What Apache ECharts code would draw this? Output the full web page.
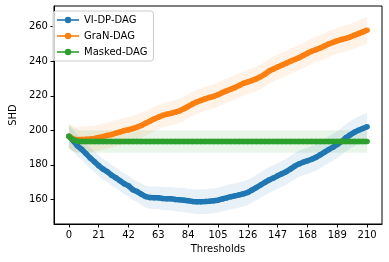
<!DOCTYPE html>
<html>
<head>
<meta charset="utf-8">
<script src="https://cdn.jsdelivr.net/npm/echarts@6/dist/echarts.min.js"></script>
<style>
html,body{margin:0;padding:0;background:#fff;}
#c{width:389px;height:262px;}
</style>
</head>
<body>
<div id="c"></div>
<script>
const thresholds = [0,3,6,9,12,15,18,21,24,27,30,33,36,39,42,45,48,51,54,57,60,63,66,69,72,75,78,81,84,87,90,93,96,99,102,105,108,111,114,117,120,123,126,129,132,135,138,141,144,147,150,153,156,159,162,165,168,171,174,177,180,183,186,189,192,195,198,201,204,207,210];
const xTickLabels = [0,21,42,63,84,105,126,147,168,189,210];
const yTickLabels = [160,180,200,220,240,260];

const viDpDag = [196.5,194,191,189,186.5,184,181.8,179.5,177.5,176,174,172.5,170.8,169,167.8,165.6,164.5,163,161.6,161,160.9,160.9,160.5,160.3,160.4,159.9,159.8,159.5,159.2,158.8,158.6,158.6,158.7,158.9,159.2,159.5,160.2,160.8,161.5,162,162.6,163.2,164,165.4,166.8,168.3,169.8,171.2,172.3,173.6,174.8,176,177.5,179.2,180.5,181.5,182.3,183.2,184.3,185.8,187.3,188.8,190.2,191.8,193.5,195.6,197.3,198.8,200,201,202];
const viDpDagStd = [6.5,6.3,6.2,6,6,6,6,6,6,6,6,6,6,6,6,6,6,6.2,6.3,6.4,6.5,6.5,6.6,6.7,6.8,6.8,6.9,7,7,7,7.1,7.2,7.2,7.2,7.2,7.2,7.2,7.2,7.2,7.3,7.3,7.3,7.3,7.3,7.4,7.4,7.4,7.5,7.5,7.5,7.5,7.5,7.5,7.6,7.6,7.6,7.6,7.7,7.7,7.7,7.7,7.8,7.8,7.8,7.8,7.9,7.9,7.9,8,8,8];

const granDag = [196.5,195,194.5,194.7,194.8,195,195.3,195.8,196.3,197,197.5,198.3,199,199.8,200.3,201,201.8,202.8,204,205.3,206.5,207.6,208.6,209.3,209.8,210.5,211.3,212.5,213.8,215.2,216.4,217.3,218.2,219,219.7,220.6,221.8,222.8,223.8,224.8,226,227.2,228,228.8,229.8,231,232.5,234.3,235.5,236.6,237.7,238.8,240,241,242,243.3,244.6,245.8,246.7,247.7,248.8,250,250.9,251.8,252.6,253.2,254,255,256,257,258];
const granDagStd = [7,7.2,7.4,7.5,7.5,7.5,7.5,7.5,7.5,7.5,7.5,7.5,7.5,7.5,7.4,7.4,7.3,7.3,7.2,7.2,7.1,7.1,7,7,7,7,7,7,7,7,7,7,7,7,7,7,7,7,7,7,7,7,7,7,7,7.1,7.1,7.2,7.2,7.2,7.3,7.3,7.3,7.3,7.4,7.4,7.4,7.4,7.5,7.5,7.5,7.5,7.5,7.5,7.6,7.6,7.6,7.7,7.7,7.8,7.8];

const maskedDag = [196.5,194.5,193.6,193.5,193.5,193.5,193.5,193.5,193.5,193.5,193.5,193.5,193.5,193.5,193.5,193.5,193.5,193.5,193.5,193.5,193.5,193.5,193.5,193.5,193.5,193.5,193.5,193.5,193.5,193.5,193.5,193.5,193.5,193.5,193.5,193.5,193.5,193.5,193.5,193.5,193.5,193.5,193.5,193.5,193.5,193.5,193.5,193.5,193.5,193.5,193.5,193.5,193.5,193.5,193.5,193.5,193.5,193.5,193.5,193.5,193.5,193.5,193.5,193.5,193.5,193.5,193.5,193.5,193.5,193.5,193.5];
const maskedDagStd = [7,6.8,6.6,6.5,6.5,6.5,6.5,6.5,6.5,6.5,6.5,6.5,6.5,6.5,6.5,6.5,6.5,6.5,6.5,6.5,6.5,6.5,6.5,6.5,6.5,6.5,6.5,6.5,6.5,6.5,6.5,6.5,6.5,6.5,6.5,6.5,6.5,6.5,6.5,6.5,6.5,6.5,6.5,6.5,6.5,6.5,6.5,6.5,6.5,6.5,6.5,6.5,6.5,6.5,6.5,6.5,6.5,6.5,6.5,6.5,6.5,6.5,6.5,6.5,6.5,6.5,6.5,6.5,6.5,6.5,6.5];

const seriesDefs = [
  {name:'VI-DP-DAG', mean:viDpDag, std:viDpDagStd, color:'#1f77b4', band:'rgba(31,119,180,0.1)'},
  {name:'GraN-DAG', mean:granDag, std:granDagStd, color:'#ff7f0e', band:'rgba(255,127,14,0.1)'},
  {name:'Masked-DAG', mean:maskedDag, std:maskedDagStd, color:'#2ca02c', band:'rgba(44,160,44,0.1)'}
];

const series = [];
seriesDefs.forEach((d, i) => {
  const bandData = thresholds.map((t,k)=>[t, d.mean[k]-d.std[k], d.mean[k]+d.std[k]]);
  series.push({
    name: d.name + ' band', type:'custom', silent:true, z:1, clip:true,
    encode:{x:0, y:[1,2]},
    data: bandData,
    renderItem: function(params, api){
      if (params.dataIndex !== 0) return null;
      const upper = [], lower = [];
      bandData.forEach(p => {
        upper.push(api.coord([p[0], p[2]]));
        lower.push(api.coord([p[0], p[1]]));
      });
      const pts = upper.concat(lower.reverse());
      return {type:'polygon', shape:{points:pts}, style:{fill:d.band, stroke:null}};
    }
  });
});
seriesDefs.forEach((d, i) => {
  series.push({
    name: d.name, type:'line', symbol:'circle', symbolSize:5.5, showSymbol:true,
    color: d.color, lineStyle:{width:5.5, color:d.color}, itemStyle:{color:d.color},
    z: 3 + i, animation:false,
    data: thresholds.map((t,k)=>[t, d.mean[k]])
  });
});

const chart = echarts.init(document.getElementById('c'), null, {renderer:'canvas'});
chart.setOption({
  animation:false,
  backgroundColor:'#ffffff',
  textStyle:{fontFamily:'DejaVu Sans'},
  grid:{left:47, right:7, top:6, bottom:38, show:true, borderColor:'#000', borderWidth:1, backgroundColor:'transparent'},
  legend:{
    data: seriesDefs.map(d=>({name:d.name, itemStyle:{color:d.color}, lineStyle:{width:2, color:d.color, opacity:0.8}})),
    orient:'vertical', left:53, top:11,
    itemWidth:22, itemHeight:8, itemGap:6,
    padding:[4,6,4,3],
    borderColor:'#cccccc', borderWidth:1, borderRadius:3,
    backgroundColor:'rgba(255,255,255,0.8)',
    textStyle:{fontSize:10, color:'#000', fontFamily:'DejaVu Sans'}
  },
  xAxis:{
    type:'value', min:-10.5, max:220.5,
    name:'Thresholds', nameLocation:'middle', nameGap:20,
    nameTextStyle:{fontSize:10, color:'#000', fontFamily:'DejaVu Sans'},
    axisLine:{show:true, onZero:false, lineStyle:{color:'#000', width:1}},
    axisTick:{show:true, length:3.5, lineStyle:{color:'#000'}, customValues:xTickLabels},
    axisLabel:{fontSize:10, color:'#000', margin:6, customValues:xTickLabels, fontFamily:'DejaVu Sans'},
    splitLine:{show:false}
  },
  yAxis:{
    type:'value', min:145.7, max:272,
    name:'SHD', nameLocation:'middle', nameGap:30,
    nameTextStyle:{fontSize:10, color:'#000', fontFamily:'DejaVu Sans'},
    axisLine:{show:true, onZero:false, lineStyle:{color:'#000', width:1}},
    axisTick:{show:true, length:3.5, lineStyle:{color:'#000'}, customValues:yTickLabels},
    axisLabel:{fontSize:10, color:'#000', margin:6, customValues:yTickLabels, fontFamily:'DejaVu Sans'},
    splitLine:{show:false}
  },
  series: series
});
</script>
</body>
</html>
